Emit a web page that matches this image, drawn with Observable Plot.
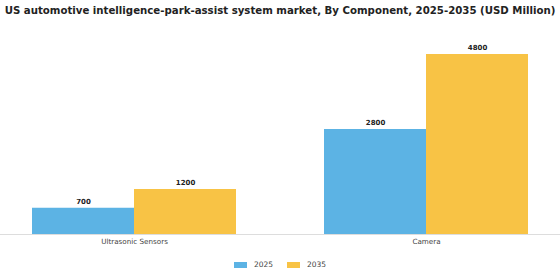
<!DOCTYPE html>
<html><head><meta charset="utf-8">
<script src="https://cdn.jsdelivr.net/npm/d3@7"></script>
<script src="https://cdn.jsdelivr.net/npm/@observablehq/plot@0.6"></script>
<style>
body{margin:0;background:#fff;font-family:"DejaVu Sans",sans-serif;}
#title{height:22px;line-height:22px;font-weight:bold;font-size:10.2px;color:#222;white-space:nowrap;text-align:center;overflow:hidden;}
#legend{display:flex;justify-content:center;gap:14px;font-size:7.5px;color:#444;margin-top:8px;}
#legend span.sw{display:inline-block;width:13px;height:6px;margin-right:7px;vertical-align:middle;}
</style></head>
<body>
<div id="title">US automotive intelligence-park-assist system market, By Component, 2025-2035 (USD Million)</div>
<div id="chart"></div>
<div id="legend"></div>
<script>
const categories = ["Ultrasonic Sensors", "Camera"];
const years = ["2025", "2035"];
const values2025 = [700, 2800];
const values2035 = [1200, 4800];
const colors = ["#5cb3e4", "#f8c345"];

const data = categories.flatMap((c, i) => [
  {category: c, year: years[0], value: values2025[i]},
  {category: c, year: years[1], value: values2035[i]}
]);

const plot = Plot.plot({
  width: 560,
  height: 230,
  marginTop: 32,
  marginBottom: 18,
  marginLeft: 0,
  marginRight: 0,
  style: {fontFamily: "DejaVu Sans, sans-serif", fontSize: "7.2px", color: "#444"},
  x: {domain: categories, paddingInner: 0.3014, paddingOuter: 0.1096, label: null, tickSize: 0, tickPadding: 4},
  y: {domain: [0, 4800], axis: null},
  color: {domain: years, range: colors},
  marks: [
    Plot.barY(data.filter(d => d.year === years[0]), {x: "category", y: "value", fill: "year", insetRight: 102}),
    Plot.barY(data.filter(d => d.year === years[1]), {x: "category", y: "value", fill: "year", insetLeft: 102}),
    Plot.text(data.filter(d => d.year === years[0]), {x: "category", y: "value", text: d => String(d.value), dx: -51, dy: -7, fontWeight: "bold", fontSize: 7, fill: "#222"}),
    Plot.text(data.filter(d => d.year === years[1]), {x: "category", y: "value", text: d => String(d.value), dx: 51, dy: -7, fontWeight: "bold", fontSize: 7, fill: "#222"}),
    Plot.ruleY([0], {stroke: "#ddd"})
  ]
});
document.getElementById("chart").appendChild(plot);

const legend = document.getElementById("legend");
years.forEach((y, i) => {
  const item = document.createElement("div");
  item.innerHTML = `<span class="sw" style="background:${colors[i]}"></span>${y}`;
  legend.appendChild(item);
});
</script>
</body></html>
